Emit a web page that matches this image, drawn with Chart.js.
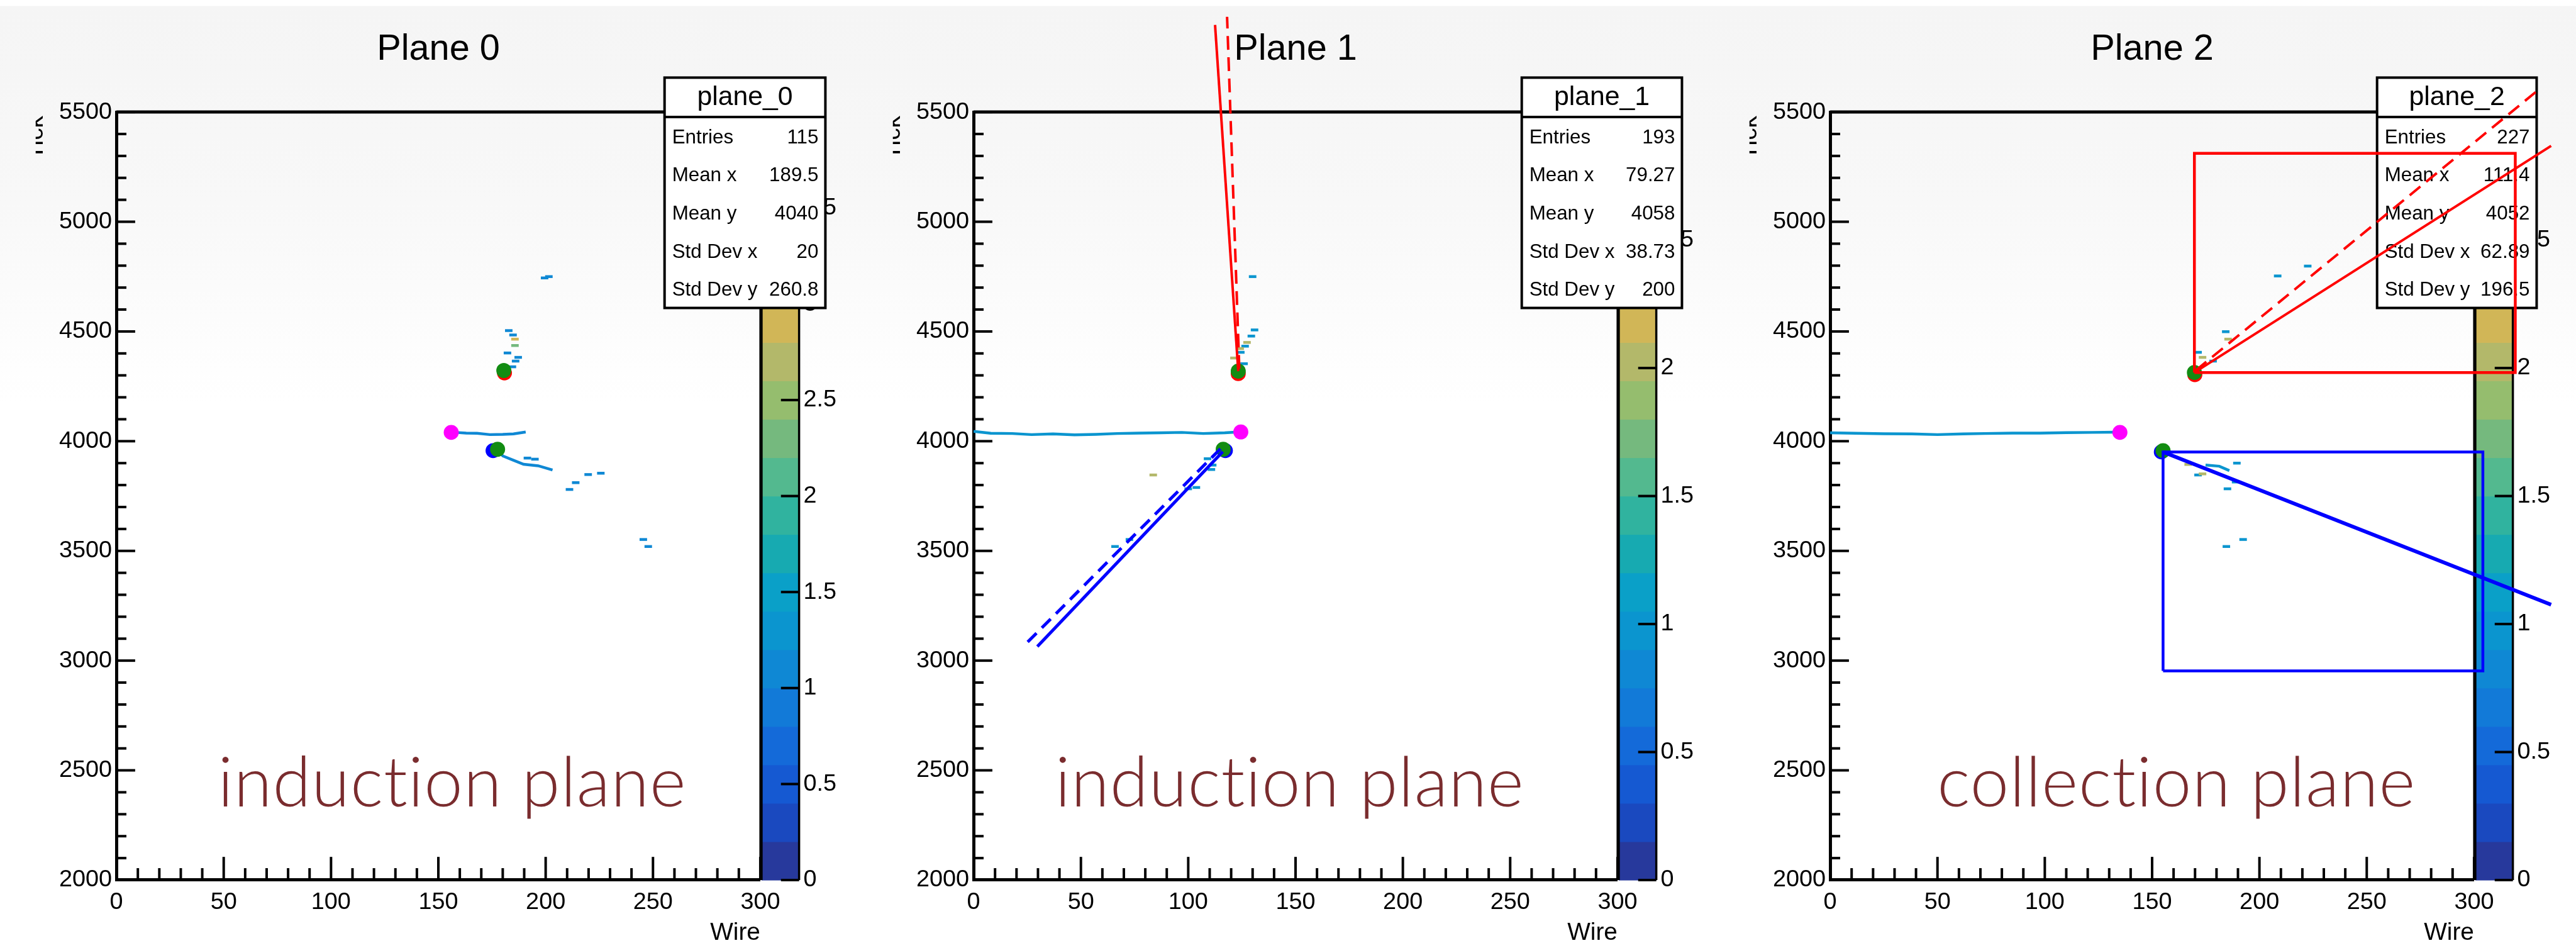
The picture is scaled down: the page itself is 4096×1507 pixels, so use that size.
<!DOCTYPE html>
<html>
<head>
<meta charset="utf-8">
<title>Planes</title>
<script src="https://cdn.jsdelivr.net/npm/chart.js@4.4.1/dist/chart.umd.min.js"></script>
<style>
  html, body { margin: 0; padding: 0; }
  body {
    width: 4096px; height: 1507px; position: relative; overflow: hidden;
    background: linear-gradient(#ffffff 0px, #ffffff 9px, #f5f5f5 10px, #f8f8f8 320px, #ffffff 640px);
  }
  canvas { position: absolute; top: 0; }
</style>
</head>
<body>
<canvas id="plane0"></canvas>
<canvas id="plane1"></canvas>
<canvas id="plane2"></canvas>
<script>
// reference is drawn at 0.995 of its size
const S = 0.995;
const H = 1507;

// axis ticks
const wireTicks = [0, 50, 100, 150, 200, 250, 300];
const tickTicks = [2000, 2500, 3000, 3500, 4000, 4500, 5000, 5500];
const chargeTicks4 = [0, 0.5, 1, 1.5, 2, 2.5, 3, 3.5, 4];
const chargeTicks3 = [0, 0.5, 1, 1.5, 2, 2.5, 3];

// stats boxes
const statLabels = ['Entries', 'Mean x', 'Mean y', 'Std Dev x', 'Std Dev y'];
const plane0Stats = ['115', '189.5', '4040', '20', '260.8'];
const plane1Stats = ['193', '79.27', '4058', '38.73', '200'];
const plane2Stats = ['227', '111.4', '4052', '62.89', '196.5'];

// ---- Plane 0
const plane0HitWire   = [199.5, 201.5, 182.8, 184.8, 185.7, 185.7, 182.2, 187.2, 186.0, 184.5, 191.5, 195.0, 219.8, 225.7, 214.0, 211.1, 245.5, 247.8];
const plane0HitTick   = [4744, 4750, 4504, 4484, 4465, 4436, 4402, 4382, 4365, 4339, 3923, 3918, 3848, 3854, 3811, 3780, 3552, 3520];
const plane0HitCharge = [1.2, 1.2, 1.2, 1.2, 2.9, 2.2, 1.2, 1.2, 1.2, 1.2, 1.2, 1.2, 1.2, 1.2, 1.2, 1.2, 1.2, 1.2];
const plane0TrackAWire = [158, 163, 168, 174, 180, 185, 190.7];
const plane0TrackATick = [4040, 4037, 4036, 4030, 4031, 4033, 4042];
const plane0TrackBWire = [178, 180, 184.8, 189.7, 196.5, 203.2];
const plane0TrackBTick = [3960, 3933, 3914, 3895, 3888, 3869];
const plane0VertexWire = [180.5, 177.6];
const plane0VertexTick = [4322, 3963];
const plane0RedDotWire = [180.8];
const plane0RedDotTick = [4311];
const plane0BlueDotWire = [175.5];
const plane0BlueDotTick = [3957];
const plane0NuWire = [156.0];
const plane0NuTick = [4040];

// ---- Plane 1
const plane1HitWire   = [130.0, 130.9, 129.4, 127.4, 126.5, 124.2, 124.5, 121.3, 126.0, 109.0, 111.4, 110.8, 103.8, 100.0, 83.7, 72.6, 65.9];
const plane1HitTick   = [4750, 4507, 4479, 4450, 4433, 4422, 4405, 4379, 4353, 3920, 3891, 3871, 3789, 3783, 3846, 3552, 3520];
const plane1HitCharge = [1.0, 1.0, 1.0, 2.0, 1.0, 2.0, 1.0, 2.0, 1.0, 1.0, 1.0, 1.0, 1.0, 1.0, 2.0, 1.0, 1.0];
const plane1TrackWire = [0, 8, 18, 27, 37, 47, 57, 67, 77, 87, 97, 107, 117, 123];
const plane1TrackTick = [4045, 4036, 4035, 4030, 4033, 4029, 4031, 4035, 4037, 4038, 4040, 4035, 4038, 4042];
const plane1VertexWire = [123.3, 116.3];
const plane1VertexTick = [4319, 3963];
const plane1RedDotWire = [123.3];
const plane1RedDotTick = [4308];
const plane1BlueDotWire = [117.3];
const plane1BlueDotTick = [3957];
const plane1NuWire = [124.5];
const plane1NuTick = [4042];
const plane1RedFitWire = [123.3, 112.5];
const plane1RedFitTick = [4319, 5897];
const plane1RedDirWire = [123.8, 118.1];
const plane1RedDirTick = [4330, 5934];
const plane1BlueFitWire = [116.1, 29.7];
const plane1BlueFitTick = [3952, 3064];
const plane1BlueDirWire = [115.0, 24.8];
const plane1BlueDirTick = [3965, 3081];

// ---- Plane 2
const plane2HitWire   = [166.8, 171.4, 173.5, 189.5, 185.1, 188.9, 192.4, 184.6, 171.4, 173.5, 178.4, 184.3, 185.4, 208.5, 222.5];
const plane2HitTick   = [3894, 3846, 3851, 3900, 3783, 3814, 3552, 3520, 4405, 4382, 4365, 4499, 4465, 4753, 4798];
const plane2HitCharge = [2.0, 1.0, 2.0, 1.0, 1.0, 1.0, 1.0, 1.0, 1.0, 2.0, 1.0, 1.0, 2.0, 1.0, 1.0];
const plane2TrackWire = [0, 12, 25, 38, 50, 62, 72, 85, 98, 110, 122, 133];
const plane2TrackTick = [4038, 4036, 4034, 4033, 4030, 4033, 4035, 4037, 4037, 4039, 4040, 4041];
const plane2StubWire = [174.9, 181.3, 186.0];
const plane2StubTick = [3891, 3886, 3866];
const plane2VertexWire = [169.7, 155.1];
const plane2VertexTick = [4313, 3957];
const plane2RedDotWire = [169.9];
const plane2RedDotTick = [4303];
const plane2BlueDotWire = [154.3];
const plane2BlueDotTick = [3951];
const plane2NuWire = [135.0];
const plane2NuTick = [4040];
const plane2RedBoxWire = [169.7, 319.2];
const plane2RedBoxTick = [4313, 5312];
const plane2BlueBoxWire = [155.1, 304.1];
const plane2BlueBoxTick = [2953, 3951];
const plane2RedFitWire = [169.7, 335.9];
const plane2RedFitTick = [4313, 5346];
const plane2RedDirWire = [170.3, 330.6];
const plane2RedDirTick = [4322, 5606];
const plane2BlueFitWire = [155.1, 335.9];
const plane2BlueFitTick = [3951, 3255];

// 20 contour colours of the palette, low to high
const palette = ['#27399c', '#1a49bf', '#1559d2', '#146ad9', '#127ad8', '#0f88d4', '#0b95cf', '#0aa0c8',
                 '#17aab1', '#30b39f', '#53b98f', '#75b97e', '#95bd6e', '#b3b86a', '#d1b657', '#e2bc48',
                 '#efc63a', '#f6d42c', '#f7e21d', '#f9f00e'];

const FONT = '"Liberation Sans", Arial, Helvetica, sans-serif';
const GREEN = '#128c12';

function colourFor(q, zMax) {
    const i = Math.min(palette.length - 1, Math.floor(q / (zMax / palette.length)));
    return palette[i];
}

function pts(wires, ticks) {
    return wires.map((w, i) => ({ x: w, y: ticks[i] }));
}

function hitSet(wires, ticks, charges, zMax) {
    return {
        data: pts(wires, ticks),
        pointStyle: 'line',
        pointRadius: 6 * S,
        pointBorderWidth: 4.5 * S,
        pointBorderColor: (c) => colourFor(charges[c.dataIndex], zMax),
        order: 6
    };
}

function trackSet(wires, ticks, q, zMax) {
    return {
        data: pts(wires, ticks),
        showLine: true,
        borderColor: colourFor(q, zMax),
        borderWidth: 4.5 * S,
        pointRadius: 0,
        order: 6
    };
}

function dotSet(wires, ticks, colour, order) {
    return {
        data: pts(wires, ticks),
        pointStyle: 'circle',
        pointRadius: 12 * S,
        pointBackgroundColor: colour,
        pointBorderWidth: 0,
        order: order
    };
}

function lineSet(wires, ticks, colour, width, dash) {
    return {
        data: pts(wires, ticks),
        showLine: true,
        borderColor: colour,
        borderWidth: width * S,
        borderDash: dash ? dash.map(d => d * S) : [],
        pointRadius: 0,
        clip: false,
        order: 1
    };
}

function boxSet(wireRange, tickRange, colour) {
    const [w0, w1] = wireRange;
    const [t0, t1] = tickRange;
    return lineSet([w0, w1, w1, w0, w0], [t0, t0, t1, t1, t0], colour, 4.5);
}

/**
 * Draws the ROOT-like decorations: inner ticks, frame, palette, stats box and texts
 */
function decorPlugin(p) {
    return {
        id: 'decor_' + p.id,
        beforeDatasetsDraw(chart) {
            const ctx = chart.ctx;
            const { left, right, top, bottom } = chart.chartArea;
            const xs = chart.scales.x, ys = chart.scales.y, zs = chart.scales.z;
            const seg = (x0, y0, x1, y1) => {
                ctx.beginPath(); ctx.moveTo(x0, y0); ctx.lineTo(x1, y1); ctx.stroke();
            };
            ctx.save();
            ctx.strokeStyle = '#000';
            ctx.lineCap = 'butt';

            // inner ticks on the wire axis
            ctx.lineWidth = 4 * S;
            for (let v = 0; v <= 300; v += 10) {
                const x = xs.getPixelForValue(v);
                const len = wireTicks.includes(v) ? 37 : 19;
                seg(x, bottom, x, bottom - len * S);
            }
            // inner ticks on the tick axis
            for (let v = 2000; v <= 5500; v += 100) {
                const y = ys.getPixelForValue(v);
                const len = tickTicks.includes(v) ? 30 : 16;
                seg(left, y, left + len * S, y);
            }
            // frame top and right
            ctx.lineWidth = 5 * S;
            seg(left, top, right, top);
            ctx.lineWidth = 3 * S;
            seg(right, top, right, bottom);

            // palette
            const zMax = zs.max;
            const barL = right + 2 * S, barR = right + 62 * S;
            palette.forEach((c, i) => {
                const y0 = zs.getPixelForValue(i * zMax / palette.length);
                const y1 = zs.getPixelForValue((i + 1) * zMax / palette.length);
                ctx.fillStyle = c;
                ctx.fillRect(barL, y1, barR - barL, y0 - y1 + 0.6);
            });
            ctx.lineWidth = 3.5 * S;
            seg(barL, top, barL, bottom);
            seg(barR, top, barR, bottom);
            ctx.lineWidth = 4 * S;
            p.zTicks.forEach(v => {
                const y = zs.getPixelForValue(v);
                seg(barR - 29 * S, y, barR, y);
            });

            // stats box
            const bx0 = p.statsLeft * S, bx1 = p.statsRight * S;
            const by0 = 124 * S, by1 = 492 * S, bh = 187 * S;
            ctx.fillStyle = '#fff';
            ctx.fillRect(bx0, by0, bx1 - bx0, by1 - by0);
            ctx.lineWidth = 4 * S;
            ctx.strokeRect(bx0, by0, bx1 - bx0, by1 - by0);
            seg(bx0, bh, bx1, bh);
            ctx.fillStyle = '#000';
            ctx.textBaseline = 'middle';
            ctx.textAlign = 'center';
            ctx.font = `${43 * S}px ${FONT}`;
            ctx.fillText(p.name, (bx0 + bx1) / 2, 156 * S);
            ctx.font = `${31.5 * S}px ${FONT}`;
            statLabels.forEach((lab, i) => {
                const y = (220 + 61 * i) * S;
                ctx.textAlign = 'left';
                ctx.fillText(lab, bx0 + 12 * S, y);
                ctx.textAlign = 'right';
                ctx.fillText(p.stats[i], bx1 - 11 * S, y);
            });

            // title
            ctx.textAlign = 'center';
            ctx.font = `${58 * S}px ${FONT}`;
            ctx.fillText(p.title, (left + right) / 2, 79 * S);

            // axis titles
            ctx.font = `${39 * S}px ${FONT}`;
            ctx.textAlign = 'right';
            ctx.fillText('Wire', right, 1491 * S);
            ctx.save();
            ctx.beginPath();
            ctx.rect(57 * S, 0, 30 * S, 400 * S);
            ctx.clip();
            ctx.translate(68 * S, 185 * S);
            ctx.rotate(-Math.PI / 2);
            ctx.textBaseline = 'alphabetic';
            ctx.fillText('Tick', 0, 0);
            ctx.restore();

            // plane label, no ligatures
            ctx.save();
            ctx.font = `300 ${112 * S}px Lato, "Open Sans", sans-serif`;
            if ('textRendering' in ctx) ctx.textRendering = 'optimizeSpeed';
            if ('letterSpacing' in ctx) ctx.letterSpacing = '1px';
            const m = ctx.measureText(p.note.text).width;
            ctx.translate(p.note.left * S, 1288 * S);
            ctx.scale(p.note.width * S / m, 1);
            ctx.textAlign = 'left';
            ctx.textBaseline = 'alphabetic';
            ctx.fillStyle = '#7a2c2e';
            ctx.fillText(p.note.text, 0, 0);
            ctx.restore();

            ctx.restore();
        }
    };
}

function makePanel(p) {
    const canvas = document.getElementById(p.id);
    const x0 = Math.round(p.left * S);
    const w = p.last ? 4096 - x0 : Math.round(p.width * S);
    canvas.width = w;
    canvas.height = H;
    canvas.style.left = x0 + 'px';
    canvas.style.width = w + 'px';
    canvas.style.height = H + 'px';

    const zWidth = 130 * S;
    const tickFont = { family: FONT, size: 38 * S };

    return new Chart(canvas, {
        type: 'scatter',
        data: { datasets: p.datasets },
        options: {
            responsive: false,
            animation: false,
            devicePixelRatio: 1,
            events: [],
            layout: { padding: { left: 0, top: 179 * S, bottom: 0, right: w - 1215 * S - zWidth } },
            plugins: { legend: { display: false }, tooltip: { enabled: false }, title: { display: false } },
            scales: {
                x: {
                    type: 'linear', position: 'bottom', min: 0, max: 300,
                    afterBuildTicks: (a) => { a.ticks = wireTicks.map(v => ({ value: v })); },
                    afterFit: (a) => { a.height = H - 1406 * S; },
                    grid: { display: false, drawTicks: false },
                    border: { display: true, color: '#000', width: 5 * S },
                    ticks: { font: tickFont, color: '#000', padding: 13 * S, maxRotation: 0, autoSkip: false,
                             callback: (v) => String(v) }
                },
                y: {
                    type: 'linear', position: 'left', min: 2000, max: 5500,
                    afterBuildTicks: (a) => { a.ticks = tickTicks.map(v => ({ value: v })); },
                    afterFit: (a) => { a.width = 186 * S; },
                    grid: { display: false, drawTicks: false },
                    border: { display: true, color: '#000', width: 5 * S },
                    ticks: { font: tickFont, color: '#000', padding: 7 * S, autoSkip: false,
                             callback: (v) => String(v) }
                },
                z: {
                    type: 'linear', position: 'right', min: 0, max: p.zMax,
                    afterBuildTicks: (a) => { a.ticks = p.zTicks.map(v => ({ value: v })); },
                    afterFit: (a) => { a.width = zWidth; },
                    grid: { display: false, drawTicks: false },
                    border: { display: false },
                    ticks: { font: tickFont, color: '#000', padding: 69 * S, autoSkip: false,
                             callback: (v) => String(v) }
                }
            }
        },
        plugins: [decorPlugin(p)]
    });
}

const panels = [
    {
        id: 'plane0', left: 0, width: 1370, title: 'Plane 0', name: 'plane_0', stats: plane0Stats,
        zMax: 4, zTicks: chargeTicks4, statsLeft: 1062, statsRight: 1319,
        note: { text: 'induction plane', left: 348, width: 749 },
        datasets: [
            hitSet(plane0HitWire, plane0HitTick, plane0HitCharge, 4),
            trackSet(plane0TrackAWire, plane0TrackATick, 1.2, 4),
            trackSet(plane0TrackBWire, plane0TrackBTick, 1.2, 4),
            dotSet(plane0RedDotWire, plane0RedDotTick, '#ff0000', 5),
            dotSet(plane0BlueDotWire, plane0BlueDotTick, '#0000ff', 5),
            dotSet(plane0VertexWire, plane0VertexTick, GREEN, 4),
            dotSet(plane0NuWire, plane0NuTick, '#ff00ff', 4)
        ]
    },
    {
        id: 'plane1', left: 1370, width: 1369, title: 'Plane 1', name: 'plane_1', stats: plane1Stats,
        zMax: 3, zTicks: chargeTicks3, statsLeft: 1062, statsRight: 1318,
        note: { text: 'induction plane', left: 316, width: 750 },
        datasets: [
            hitSet(plane1HitWire, plane1HitTick, plane1HitCharge, 3),
            trackSet(plane1TrackWire, plane1TrackTick, 1.0, 3),
            dotSet(plane1RedDotWire, plane1RedDotTick, '#ff0000', 5),
            dotSet(plane1BlueDotWire, plane1BlueDotTick, '#0000ff', 5),
            dotSet(plane1VertexWire, plane1VertexTick, GREEN, 4),
            dotSet(plane1NuWire, plane1NuTick, '#ff00ff', 4),
            lineSet(plane1RedFitWire, plane1RedFitTick, '#ff0000', 4),
            lineSet(plane1RedDirWire, plane1RedDirTick, '#ff0000', 4, [22, 12]),
            lineSet(plane1BlueFitWire, plane1BlueFitTick, '#0000ff', 5),
            lineSet(plane1BlueDirWire, plane1BlueDirTick, '#0000ff', 5, [20, 12])
        ]
    },
    {
        id: 'plane2', left: 2739, width: 1374, last: true, title: 'Plane 2', name: 'plane_2', stats: plane2Stats,
        zMax: 3, zTicks: chargeTicks3, statsLeft: 1060, statsRight: 1315,
        note: { text: 'collection plane', left: 357, width: 765 },
        datasets: [
            hitSet(plane2HitWire, plane2HitTick, plane2HitCharge, 3),
            trackSet(plane2TrackWire, plane2TrackTick, 1.0, 3),
            trackSet(plane2StubWire, plane2StubTick, 1.0, 3),
            dotSet(plane2RedDotWire, plane2RedDotTick, '#ff0000', 5),
            dotSet(plane2BlueDotWire, plane2BlueDotTick, '#0000ff', 5),
            dotSet(plane2VertexWire, plane2VertexTick, GREEN, 4),
            dotSet(plane2NuWire, plane2NuTick, '#ff00ff', 4),
            boxSet(plane2RedBoxWire, plane2RedBoxTick, '#ff0000'),
            boxSet(plane2BlueBoxWire, plane2BlueBoxTick, '#0000ff'),
            lineSet(plane2RedFitWire, plane2RedFitTick, '#ff0000', 4),
            lineSet(plane2RedDirWire, plane2RedDirTick, '#ff0000', 4, [22, 12]),
            lineSet(plane2BlueFitWire, plane2BlueFitTick, '#0000ff', 6)
        ]
    }
];

panels.forEach(makePanel);
</script>
</body>
</html>
